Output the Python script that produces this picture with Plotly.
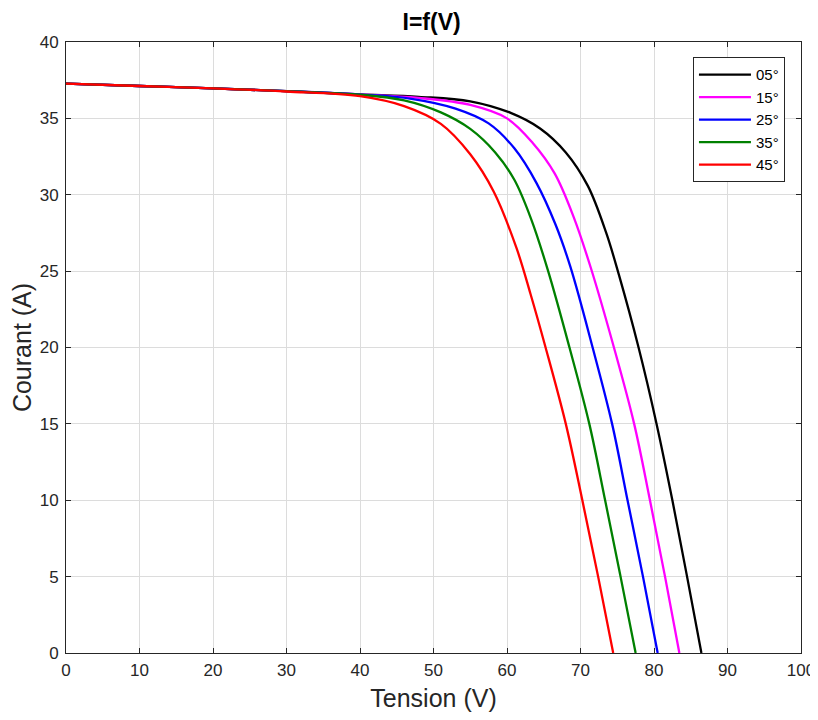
import plotly.graph_objects as go

# Data (Tension V, Courant A)
v_05 = [0, 10, 20, 30, 40, 48, 55, 60.5, 64.5, 68, 71, 73.5, 75.2, 77.9, 80.35, 82.5, 84.5, 86.45]
i_05 = [37.28, 37.12, 36.97, 36.78, 36.57, 36.41, 36.12, 35.36, 34.34, 32.77, 30.58, 27.5, 24.8, 20, 15, 10, 5, 0]

v_15 = [0, 10, 20, 30, 40, 48, 55, 60, 63.5, 66.5, 69.1, 71.4, 74.55, 77.3, 79.45, 81.5, 83.45]
i_15 = [37.28, 37.12, 36.97, 36.78, 36.57, 36.34, 35.88, 35.0, 33.39, 31.38, 28.5, 25.22, 20, 15, 10, 5, 0]

v_25 = [0, 10, 20, 30, 40, 47, 53, 57.5, 61, 64, 66.6, 68.64, 71.65, 74.3, 76.4, 78.5, 80.5]
i_25 = [37.28, 37.12, 36.97, 36.78, 36.56, 36.28, 35.64, 34.67, 33.04, 30.78, 28.05, 25.26, 20, 15, 10, 5, 0]

v_35 = [0, 10, 20, 30, 40, 46, 51, 55, 58.4, 61, 63.3, 65.6, 68.5, 71.2, 73.35, 75.45, 77.5]
i_35 = [37.28, 37.12, 36.97, 36.78, 36.55, 36.18, 35.39, 34.31, 32.77, 30.98, 28.39, 25, 20, 15, 10, 5, 0]

v_45 = [0, 10, 20, 30, 40, 46, 51, 55, 58.2, 61.3, 63.2, 65.25, 68.0, 70.25, 72.4, 74.45]
i_45 = [37.28, 37.12, 36.97, 36.76, 36.45, 35.8, 34.64, 32.65, 30.2, 26.5, 23.5, 20, 15, 10, 5, 0]

names = ["05°", "15°", "25°", "35°", "45°"]
colors = ["#000000", "#ff00ff", "#0000ff", "#008000", "#ff0000"]
series = [(v_05, i_05), (v_15, i_15), (v_25, i_25), (v_35, i_35), (v_45, i_45)]

x_ticks = list(range(0, 101, 10))
y_ticks = list(range(0, 41, 5))

FONT = "Liberation Sans, Arial, Helvetica, sans-serif"

fig = go.Figure()
for (v, i), n, c in zip(series, names, colors):
    fig.add_trace(go.Scatter(x=v, y=i, mode="lines", name=n,
                             line=dict(color=c, width=2.3, shape="spline", smoothing=1.0)))

axis_common = dict(
    showgrid=True, gridcolor="#dcdcdc", gridwidth=1,
    showline=True, linecolor="#262626", linewidth=1, mirror="ticks",
    ticks="inside", ticklen=5, tickcolor="#262626",
    tickfont=dict(family=FONT, size=17, color="#262626"),
    zeroline=False, automargin=False,
)

# page body has an 8px default margin, so the figure is sized to fit the 818x720 window
fig.update_layout(
    width=810, height=712,
    margin=dict(l=58, r=17, t=34, b=67),
    paper_bgcolor="white", plot_bgcolor="white",
    font=dict(family=FONT, color="#262626"),
    title=dict(text="<b>I=f(V)</b>", x=0.523, xanchor="center", y=0.980, yanchor="middle",
               font=dict(size=23, color="#000000")),
    xaxis=dict(range=[0, 100], tickvals=x_ticks, ticklabelstandoff=2,
               title=dict(text="Tension (V)", font=dict(size=25, color="#262626"), standoff=10),
               **axis_common),
    yaxis=dict(range=[0, 40], tickvals=y_ticks, ticklabelstandoff=3,
               title=dict(text="Courant (A)", font=dict(size=25, color="#262626"), standoff=4),
               **axis_common),
    legend=dict(x=0.853, y=0.975, xanchor="left", yanchor="top",
                bgcolor="white", bordercolor="#262626", borderwidth=1,
                font=dict(size=15, color="#000000"), itemwidth=52,
                tracegroupgap=0),
    showlegend=True,
)

fig.write_html("out.html")
